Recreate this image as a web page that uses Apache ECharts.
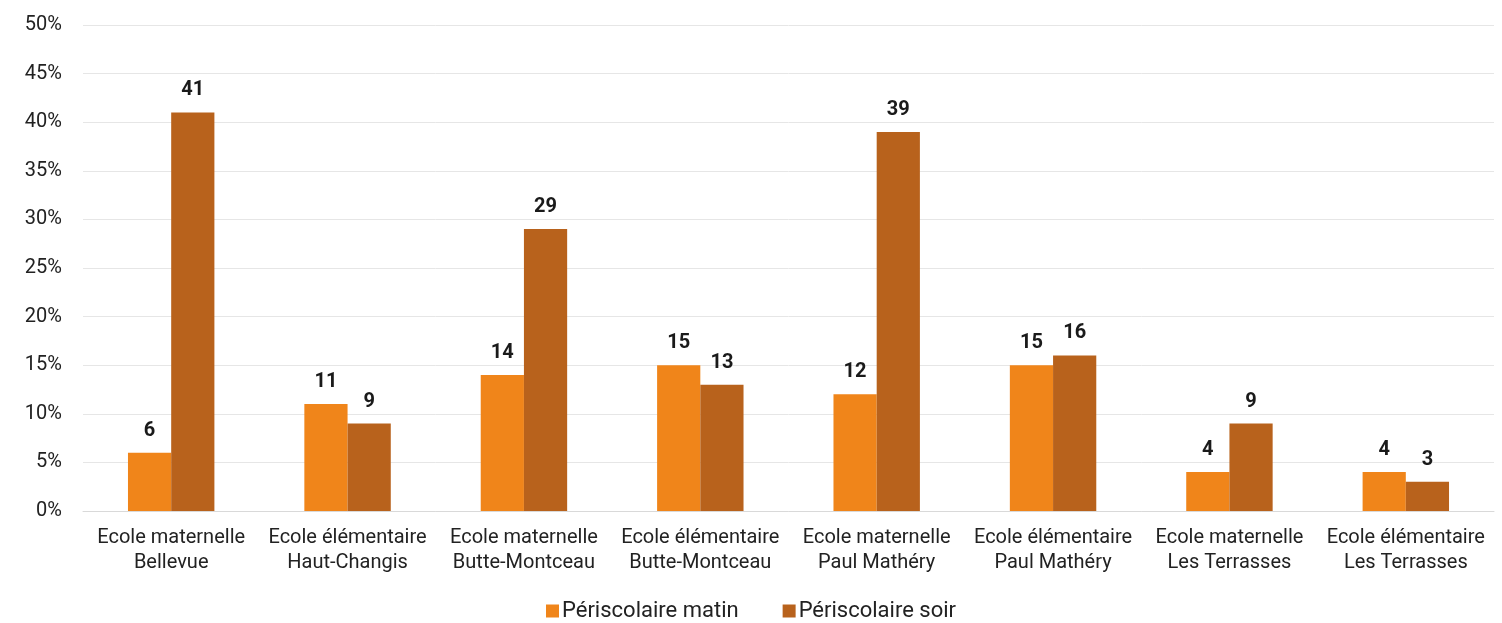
<!DOCTYPE html>
<html>
<head>
<meta charset="utf-8">
<script src="https://cdn.jsdelivr.net/npm/echarts@6/dist/echarts.min.js"></script>
<style>html,body{margin:0;padding:0;background:#fff}#c{width:1502px;height:623px}</style>
</head>
<body>
<div id="c"></div>
<script>
var categories = [
  "Ecole maternelle\nBellevue",
  "Ecole élémentaire\nHaut-Changis",
  "Ecole maternelle\nButte-Montceau",
  "Ecole élémentaire\nButte-Montceau",
  "Ecole maternelle\nPaul Mathéry",
  "Ecole élémentaire\nPaul Mathéry",
  "Ecole maternelle\nLes Terrasses",
  "Ecole élémentaire\nLes Terrasses"
];
var matin = [6, 11, 14, 15, 12, 15, 4, 4];
var soir = [41, 9, 29, 13, 39, 16, 9, 3];
var seriesNames = ["Périscolaire matin", "Périscolaire soir"];

var chart = echarts.init(document.getElementById('c'));
var labelStyle = {show: true, position: 'top', distance: 12, color: '#1a1a1a', fontWeight: 'bold', fontSize: 20, fontFamily: 'Roboto'};
chart.setOption({
  animation: false,
  textStyle: {fontFamily: 'Roboto'},
  grid: {left: 83, right: 8, top: 25, bottom: 112},
  legend: {
    bottom: -4, left: 'center', itemWidth: 13, itemHeight: 13, itemGap: 44,
    icon: 'rect',
    textStyle: {fontSize: 22, color: '#222', fontFamily: 'Roboto', padding: [0, 0, 0, -2]},
    data: seriesNames
  },
  xAxis: {
    type: 'category', data: categories,
    axisLine: {lineStyle: {color: '#d9d9d9'}},
    axisTick: {show: false},
    axisLabel: {color: '#222', fontSize: 20, lineHeight: 25, margin: 14, interval: 0, fontFamily: 'Roboto'}
  },
  yAxis: {
    type: 'value', min: 0, max: 50, interval: 5,
    axisLabel: {formatter: '{value}%', color: '#222', fontSize: 20, margin: 21, fontFamily: 'Roboto'},
    splitLine: {lineStyle: {color: '#e6e6e6'}},
    axisLine: {show: false}, axisTick: {show: false}
  },
  series: [
    {name: seriesNames[0], type: 'bar', data: matin, itemStyle: {color: '#F0851A'}, barGap: '0%', barCategoryGap: '51%', label: labelStyle},
    {name: seriesNames[1], type: 'bar', data: soir, itemStyle: {color: '#B8621C'}, label: labelStyle}
  ]
});
</script>
</body>
</html>
